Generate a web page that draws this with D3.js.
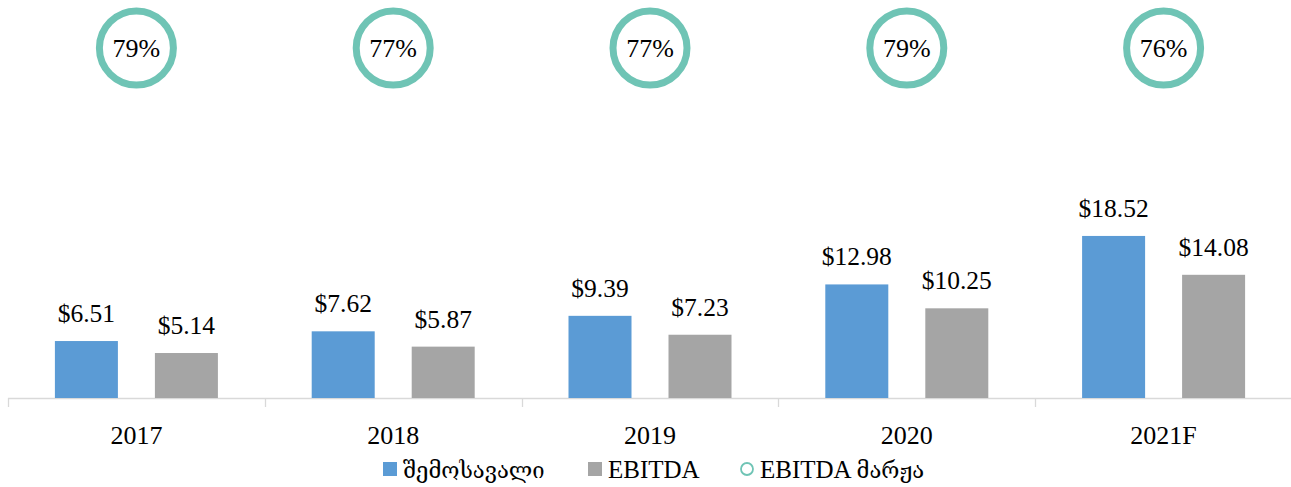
<!DOCTYPE html>
<html><head><meta charset="utf-8">
<script src="https://cdn.jsdelivr.net/npm/d3@7"></script>
<style>body{margin:0;background:#fff}svg{display:block}text{font-family:"Liberation Serif","DejaVu Serif",serif;fill:#000}</style>
</head><body>
<svg id="c" width="1291" height="487"></svg>
<script>
const categories = ["2017","2018","2019","2020","2021F"];
const revenue = [6.51,7.62,9.39,12.98,18.52];
const ebitda = [5.14,5.87,7.23,10.25,14.08];
const margin = ["79%","77%","77%","79%","76%"];
const seriesNames = ["შემოსავალი","EBITDA","EBITDA მარჟა"];

const svg = d3.select("#c");
const x = d3.scaleBand().domain(categories).range([8,1292]);
const y = d3.scaleLinear().domain([0,40]).range([398,48]);
const marginLevel = 40;
const bw = 63, off = 50;

// axis
svg.append("line").attr("x1",8).attr("x2",1292).attr("y1",398.5).attr("y2",398.5).attr("stroke","#D9D9D9").attr("stroke-width",1.3);
const tickX = categories.map(c=>x(c)).concat([x.range()[1]]);
svg.selectAll("line.tk").data(tickX).join("line").attr("class","tk")
  .attr("x1",d=>Math.round(d)+0.5).attr("x2",d=>Math.round(d)+0.5).attr("y1",398).attr("y2",407)
  .attr("stroke","#D9D9D9").attr("stroke-width",1.3);
svg.selectAll("text.cat").data(categories).join("text").attr("class","cat")
  .attr("x",d=>x(d)+x.bandwidth()/2).attr("y",444).attr("text-anchor","middle")
  .style("font-size","26px").text(d=>d);

const cx = c => x(c)+x.bandwidth()/2;
function bars(vals, dx, color){
  svg.append("g").selectAll("rect").data(vals).join("rect")
    .attr("x",(d,i)=>cx(categories[i])+dx-bw/2).attr("width",bw)
    .attr("y",d=>y(d)).attr("height",d=>y(0)-y(d)).attr("fill",color);
  svg.append("g").selectAll("text").data(vals).join("text")
    .attr("x",(d,i)=>cx(categories[i])+dx).attr("y",d=>y(d)-19)
    .attr("text-anchor","middle").style("font-size","25.5px")
    .text(d=>"$"+d.toFixed(2));
}
bars(revenue,-off,"#5B9BD5");
bars(ebitda,off,"#A5A5A5");

// margin markers
const mg = svg.append("g").selectAll("g").data(margin).join("g")
  .attr("transform",(d,i)=>`translate(${cx(categories[i])},${y(marginLevel)})`);
mg.append("circle").attr("r",37).attr("fill","#fff").attr("stroke","#6FC4B5").attr("stroke-width",7);
mg.append("text").attr("y",9).attr("text-anchor","middle").style("font-size","26px").text(d=>d);

// legend
const lg = svg.append("g");
const items = [{x:383,type:"rect",c:"#5B9BD5"},{x:588,type:"rect",c:"#A5A5A5"},{x:740,type:"circle",c:"#6FC4B5"}];
items.forEach((it,i)=>{
  if(it.type==="rect") lg.append("rect").attr("x",it.x).attr("y",462).attr("width",14).attr("height",14).attr("fill",it.c);
  else lg.append("circle").attr("cx",it.x+7).attr("cy",469).attr("r",6).attr("fill","#fff").attr("stroke",it.c).attr("stroke-width",1.8);
  const t = lg.append("text").attr("x",it.x+20).attr("y",478);
  seriesNames[i].split(/(\s+)/).forEach(part=>{
    const geo = /[\u10A0-\u10FF]/.test(part);
    t.append("tspan").style("font-size", geo ? "22px" : "25px").text(part);
  });
});
</script>
</body></html>
